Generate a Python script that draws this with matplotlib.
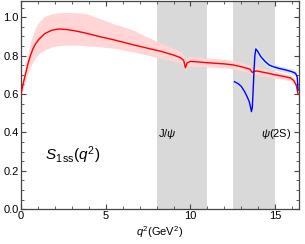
import matplotlib
matplotlib.use("Agg")
import matplotlib.pyplot as plt
from matplotlib.ticker import MultipleLocator

plt.rcParams['font.family'] = ['Liberation Sans', 'DejaVu Sans']
plt.rcParams['mathtext.fontset'] = 'custom'
plt.rcParams['mathtext.rm'] = 'Liberation Sans'
plt.rcParams['mathtext.it'] = 'Liberation Sans:italic'

# red curve (full q^2 range) with its error band
q2_red = [0.0, 0.1, 0.25, 0.4, 0.55, 0.7, 0.85, 1.05, 1.4, 1.8, 2.2, 2.7, 3.2, 3.8, 4.6,
          5.5, 6.6, 7.5, 8.2, 9.0, 9.4, 9.6, 9.7, 9.8, 10.0, 10.5, 11.0, 12.0, 12.5,
          13.0, 13.5, 13.65, 13.75, 13.9, 14.5, 15.0, 15.5, 15.9, 16.1, 16.25, 16.35]
s_red = [0.60, 0.645, 0.70, 0.755, 0.80, 0.835, 0.86, 0.885, 0.915, 0.932, 0.939,
         0.936, 0.929, 0.918, 0.90, 0.882, 0.857, 0.838, 0.824, 0.803, 0.79, 0.775,
         0.737, 0.762, 0.77, 0.767, 0.763, 0.757, 0.752, 0.742, 0.73, 0.712, 0.718,
         0.72, 0.71, 0.70, 0.692, 0.684, 0.67, 0.645, 0.598]
lo_red = [0.595, 0.625, 0.665, 0.705, 0.74, 0.768, 0.79, 0.81, 0.83, 0.845, 0.852,
          0.855, 0.855, 0.852, 0.847, 0.838, 0.82, 0.802, 0.786, 0.772, 0.762, 0.75,
          0.714, 0.738, 0.746, 0.744, 0.741, 0.736, 0.731, 0.721, 0.71, 0.693, 0.699,
          0.701, 0.692, 0.683, 0.676, 0.668, 0.654, 0.629, 0.583]
hi_red = [0.605, 0.67, 0.745, 0.81, 0.865, 0.91, 0.945, 0.975, 1.005, 1.018, 1.024,
          1.025, 1.024, 1.02, 0.995, 0.965, 0.934, 0.895, 0.868, 0.838, 0.822, 0.806,
          0.765, 0.789, 0.797, 0.793, 0.788, 0.781, 0.775, 0.765, 0.752, 0.733, 0.739,
          0.741, 0.729, 0.718, 0.709, 0.7, 0.686, 0.661, 0.612]

# blue curve (psi(2S) region)
q2_blue = [12.6, 12.8, 13.0, 13.2, 13.35, 13.47, 13.55, 13.6, 13.65, 13.7, 13.75, 13.8,
           13.86, 13.95, 14.15, 14.4, 14.65, 14.9, 15.2, 15.6, 16.0, 16.2, 16.3, 16.35]
s_blue = [0.664, 0.655, 0.64, 0.612, 0.585, 0.56, 0.53, 0.508, 0.53, 0.62, 0.72, 0.80,
          0.835, 0.825, 0.795, 0.77, 0.751, 0.742, 0.734, 0.726, 0.716, 0.708, 0.69,
          0.62]
lo_blue = [0.654, 0.645, 0.63, 0.602, 0.575, 0.55, 0.52, 0.498, 0.52, 0.608, 0.705,
           0.782, 0.815, 0.805, 0.777, 0.753, 0.735, 0.727, 0.72, 0.712, 0.702, 0.694,
           0.676, 0.606]
hi_blue = [0.674, 0.665, 0.65, 0.622, 0.595, 0.57, 0.54, 0.518, 0.54, 0.632, 0.735,
           0.818, 0.855, 0.845, 0.813, 0.787, 0.767, 0.757, 0.748, 0.74, 0.73, 0.722,
           0.704, 0.634]

# vetoed charmonium windows
vetoes = [(8.0, 11.0), (12.5, 15.0)]

fig = plt.figure(figsize=(3.05, 2.44), dpi=100)
ax = fig.add_axes([0.069, 0.143, 0.911, 0.853])

for a, b in vetoes:
    ax.axvspan(a, b, color='#d9d9d9', lw=0, zorder=0)

ax.fill_between(q2_red, lo_red, hi_red, color='#ffd5d5', lw=0, zorder=1)
ax.fill_between(q2_blue, lo_blue, hi_blue, color='#d5e6ff', lw=0, zorder=1)
ax.plot(q2_red, s_red, color='#ff0000', lw=1.0, zorder=3)
ax.plot(q2_blue, s_blue, color='#0000ff', lw=1.0, zorder=3)

ax.set_xlim(0, 16.4)
ax.set_ylim(0, 1.085)
ax.xaxis.set_major_locator(MultipleLocator(5))
ax.xaxis.set_minor_locator(MultipleLocator(1))
ax.yaxis.set_major_locator(MultipleLocator(0.2))
ax.yaxis.set_minor_locator(MultipleLocator(0.05))
ax.tick_params(which='both', direction='in', top=True, right=True, color='#444444',
               labelsize=8, pad=1.5)
ax.tick_params(which='major', length=3.5, width=0.8)
ax.tick_params(which='minor', length=2, width=0.6)
ax.set_yticks([0.0, 0.2, 0.4, 0.6, 0.8, 1.0])
ax.set_yticklabels(['0.0', '0.2', '0.4', '0.6', '0.8', '1.0'])
for s in ax.spines.values():
    s.set_color('#444444')
    s.set_linewidth(0.9)

ax.text(8.6, 0.39, 'J/$\\psi$', fontsize=8, ha='center', va='center')
ax.text(15.05, 0.39, r'$\psi$(2S)', fontsize=8, ha='center', va='center')
ax.text(1.4, 0.28, r'$S_{1\,\mathrm{ss}}(q^2)$', fontsize=11, ha='left', va='center')
ax.set_xlabel(r'$q^2$(GeV$^2$)', fontsize=8, labelpad=2)

fig.savefig('out.png', dpi=100)
